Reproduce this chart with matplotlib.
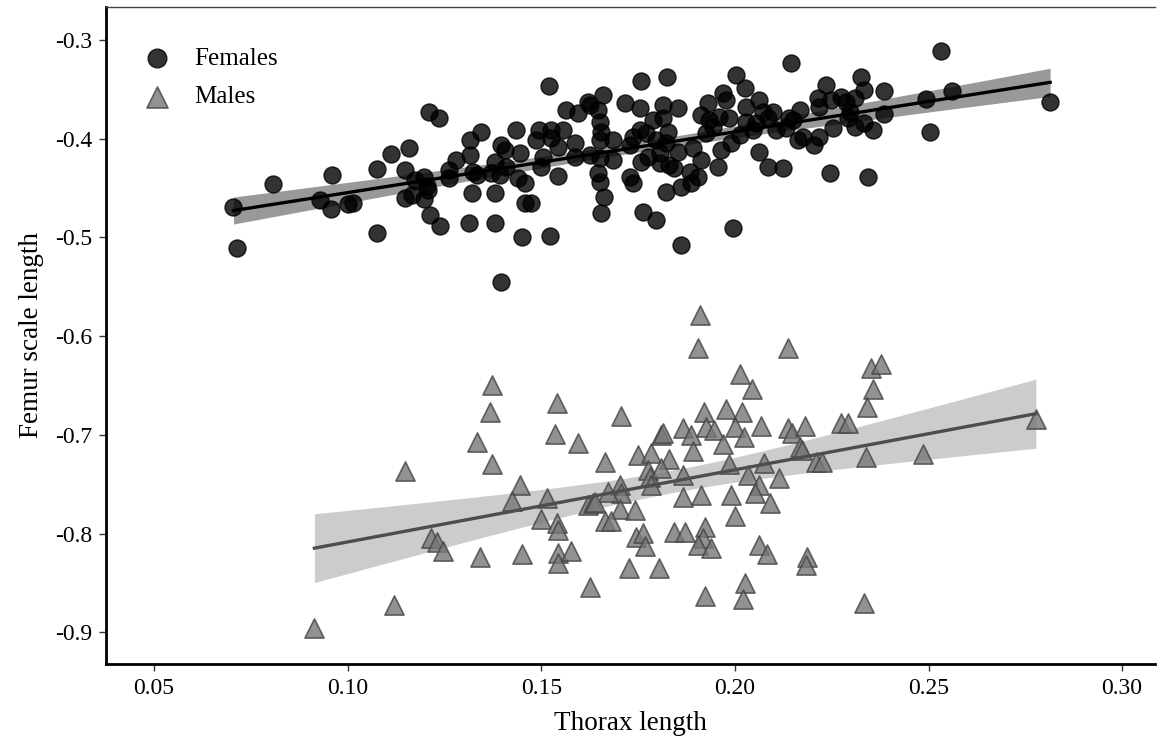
import numpy as np
import matplotlib
matplotlib.use("Agg")
import matplotlib.pyplot as plt

plt.rcParams["font.family"] = ["Liberation Serif", "DejaVu Serif"]
plt.rcParams["axes.unicode_minus"] = False

# thorax length / femur scale length
female_x = [0.0705, 0.0715, 0.0808, 0.096, 0.0928, 0.0956, 0.1001, 0.1014, 0.1076, 0.1076,
            0.1113, 0.1159, 0.1149, 0.121, 0.1235, 0.1148, 0.1165, 0.1173, 0.1197, 0.1204,
            0.1208, 0.1197, 0.1212, 0.1238, 0.1262, 0.1262, 0.1281, 0.1315, 0.1315, 0.1345,
            0.1324, 0.1333, 0.132, 0.1313, 0.138, 0.138, 0.138, 0.1397, 0.1406, 0.1393,
            0.1371, 0.1397, 0.1434, 0.1439,
            0.152, 0.141, 0.1457, 0.1457, 0.1474, 0.1451, 0.1522, 0.1444, 0.1487, 0.1494,
            0.1504, 0.15, 0.1526, 0.1556, 0.1526, 0.1543, 0.1543, 0.1565, 0.1595, 0.1586,
            0.1586, 0.1621, 0.1625, 0.1646, 0.1659, 0.1651, 0.1655, 0.1651, 0.1685, 0.1625,
            0.1651, 0.1685, 0.1646, 0.1651, 0.1661, 0.1655, 0.1715, 0.1754, 0.1758, 0.1825,
            0.1728, 0.1737, 0.1754, 0.1771, 0.1728, 0.1737, 0.1758, 0.1775, 0.1788, 0.1814,
            0.1814, 0.1853, 0.1797, 0.1827, 0.1823, 0.1806, 0.1806, 0.1831, 0.1844, 0.1762,
            0.1795, 0.1821, 0.1853, 0.1862, 0.1883, 0.1887, 0.1904, 0.1891, 0.1913, 0.1862,
            0.1913, 0.193, 0.1934, 0.196, 0.1986, 0.1943, 0.1926, 0.1965, 0.1956, 0.1969,
            0.1977, 0.2003, 0.2025, 0.199, 0.2012, 0.2029, 0.2029, 0.2063, 0.2046, 0.2055,
            0.2072, 0.2098, 0.2085, 0.2063, 0.2085, 0.2124, 0.1995, 0.2107, 0.2141, 0.2132,
            0.2149, 0.2145, 0.2162, 0.2167,
            0.2532, 0.2214, 0.2218, 0.2236, 0.2248, 0.2274, 0.2287, 0.2309, 0.2326, 0.2334,
            0.2296, 0.2291, 0.2309, 0.2334, 0.2356, 0.2386, 0.2386, 0.2175, 0.2205, 0.2218,
            0.2253, 0.2246, 0.2343, 0.2494, 0.2561, 0.2505, 0.2814]
female_y = [-0.469, -0.511, -0.446, -0.437, -0.462, -0.4715, -0.4661, -0.4648, -0.4958, -0.431,
            -0.4155, -0.4097, -0.4317, -0.3726, -0.3793, -0.4604, -0.457, -0.4418, -0.4385, -0.4479,
            -0.452, -0.4614, -0.4773, -0.4881, -0.4317, -0.4401, -0.4216, -0.4165, -0.4013, -0.3929,
            -0.4334, -0.4368, -0.4553, -0.4857, -0.4857, -0.4547, -0.4233, -0.4064, -0.4114, -0.4368,
            -0.435, -0.5448, -0.3912, -0.4398,
            -0.3466, -0.4283, -0.4452, -0.4654, -0.4654, -0.4999, -0.4985, -0.4148, -0.4013, -0.3912,
            -0.4182, -0.4283, -0.3912, -0.3912, -0.3996, -0.4081, -0.4378, -0.3709, -0.3743, -0.4046,
            -0.4182, -0.3625, -0.3658, -0.3709, -0.3557, -0.3828, -0.3929, -0.4013, -0.4013, -0.4165,
            -0.4198, -0.4216, -0.435, -0.4435, -0.4587, -0.4755, -0.3641, -0.3692, -0.3415, -0.3372,
            -0.4064, -0.398, -0.3912, -0.3945, -0.4385, -0.4452, -0.4233, -0.4182, -0.381, -0.3793,
            -0.3658, -0.3692, -0.4013, -0.3929, -0.4046, -0.4148, -0.4249, -0.4266, -0.43, -0.4739,
            -0.4823, -0.4537, -0.4131, -0.4486, -0.4334, -0.4452, -0.4385, -0.4097, -0.4216, -0.5077,
            -0.376, -0.3641, -0.381, -0.3777, -0.3793, -0.3878, -0.3945, -0.4114, -0.4283, -0.354,
            -0.3608, -0.3355, -0.3489, -0.4046, -0.3962, -0.3676, -0.3828, -0.3608, -0.3912, -0.3844,
            -0.3726, -0.3726, -0.3793, -0.4131, -0.4283, -0.4294, -0.4901, -0.3912, -0.3793, -0.3894,
            -0.381, -0.323, -0.4013, -0.3709,
            -0.3111, -0.3591, -0.3676, -0.3456, -0.3608, -0.3574, -0.3625, -0.3591, -0.3378, -0.3507,
            -0.3726, -0.3793, -0.3878, -0.3844, -0.3912, -0.3514, -0.375, -0.398, -0.4064, -0.398,
            -0.3894, -0.435, -0.4385, -0.3601, -0.3514, -0.3929, -0.3625]

male_x = [0.0914, 0.112, 0.1149, 0.1373, 0.1367, 0.1333, 0.1373, 0.1216, 0.1231, 0.1245,
          0.1341, 0.1446, 0.1424, 0.1451, 0.1541, 0.1535, 0.1595, 0.1515, 0.1498, 0.1541,
          0.1543, 0.1543, 0.1543, 0.1578, 0.1627, 0.1621, 0.1634,
          0.1909, 0.1904, 0.2137, 0.2012, 0.2045, 0.1705, 0.1919, 0.1978, 0.2019, 0.181,
          0.1814, 0.1867, 0.1887, 0.1926, 0.1947, 0.1999, 0.2023, 0.2068, 0.1969, 0.1891,
          0.2137, 0.2148, 0.2182, 0.2274, 0.2291, 0.2167, 0.2174, 0.175, 0.1784, 0.183,
          0.1664, 0.1775, 0.178, 0.181, 0.1784, 0.1867, 0.1986, 0.2076, 0.221, 0.2225,
          0.2339, 0.2352, 0.2378, 0.2356, 0.2341, 0.2033, 0.2062, 0.2051, 0.2113, 0.1702,
          0.1707, 0.1672, 0.1638, 0.1702, 0.1741, 0.1664, 0.1681, 0.1867, 0.1913, 0.199,
          0.2091, 0.2, 0.1745, 0.1762, 0.1767, 0.1844, 0.187, 0.1922, 0.1917, 0.1904,
          0.1939, 0.2062, 0.2082, 0.2186, 0.2184, 0.1726, 0.1805, 0.1922, 0.2027, 0.202,
          0.2334, 0.2487, 0.2777]
male_y = [-0.896, -0.8723, -0.7363, -0.6495, -0.6765, -0.7069, -0.7298, -0.8048, -0.8082, -0.8173,
          -0.8234, -0.7508, -0.767, -0.8207, -0.6674, -0.6994, -0.7085, -0.7636, -0.7855, -0.789,
          -0.7964, -0.82, -0.8301, -0.8177, -0.8538, -0.771, -0.7693,
          -0.5786, -0.6117, -0.6123, -0.6383, -0.6538, -0.6806, -0.6765, -0.6741, -0.6765, -0.7001,
          -0.6985, -0.6934, -0.7001, -0.6917, -0.6951, -0.6917, -0.7019, -0.691, -0.7093, -0.716,
          -0.6934, -0.6978, -0.691, -0.6883, -0.6883, -0.712, -0.7153, -0.7204, -0.7181, -0.7248,
          -0.7272, -0.7356, -0.7424, -0.7339, -0.7508, -0.7407, -0.7295, -0.7288, -0.7272, -0.7272,
          -0.7227, -0.6326, -0.6282, -0.6538, -0.6721, -0.7407, -0.7508, -0.7592, -0.744, -0.7508,
          -0.7592, -0.7576, -0.7677, -0.7754, -0.7761, -0.7869, -0.7869, -0.7632, -0.7609, -0.7609,
          -0.7687, -0.7822, -0.8032, -0.7997, -0.8126, -0.7981, -0.7981, -0.793, -0.8048, -0.8116,
          -0.8149, -0.8116, -0.8207, -0.8234, -0.8318, -0.8352, -0.8352, -0.8632, -0.8504, -0.8666,
          -0.87, -0.7196, -0.6842]

x_ticks = [0.05, 0.10, 0.15, 0.20, 0.25, 0.30]
y_ticks = [-0.3, -0.4, -0.5, -0.6, -0.7, -0.8, -0.9]


def lm_band(x, y, n_pts=80):
    x = np.asarray(x)
    y = np.asarray(y)
    b, a = np.polyfit(x, y, 1)
    xs = np.linspace(x.min(), x.max(), n_pts)
    fit = a + b * xs
    resid = y - (a + b * x)
    n = len(x)
    s = np.sqrt(np.sum(resid ** 2) / (n - 2))
    sxx = np.sum((x - x.mean()) ** 2)
    se = s * np.sqrt(1.0 / n + (xs - x.mean()) ** 2 / sxx)
    t = 1.97
    return xs, fit, fit - t * se, fit + t * se


fig = plt.figure(figsize=(11.64, 7.45), dpi=100)
ax = fig.add_axes([0.0911, 0.1087, 0.9012, 0.882])

xs, fit, lo, hi = lm_band(female_x, female_y)
ax.fill_between(xs, lo, hi, color="#999999", lw=0, zorder=1)
ax.scatter(female_x, female_y, s=150, marker="o", facecolor="#000000", alpha=0.8,
           edgecolor="#000000", linewidth=1, zorder=2, label="Females")
ax.plot(xs, fit, color="black", lw=2.4, zorder=3)

xs, fit, lo, hi = lm_band(male_x, male_y)
ax.fill_between(xs, lo, hi, color="#cccccc", lw=0, zorder=1)
ax.scatter(male_x, male_y, s=190, marker="^", facecolor="#777777", alpha=0.8,
           edgecolor="#444444", linewidth=1.2, zorder=2, label="Males")
ax.plot(xs, fit, color="#4d4d4d", lw=2.4, zorder=3)

ax.set_xlim(0.0376, 0.3085)
ax.set_ylim(-0.9322, -0.2666)
ax.set_xticks(x_ticks)
ax.set_xticklabels([f"{v:.2f}" for v in x_ticks])
ax.set_yticks(y_ticks)
ax.set_yticklabels([f"{v:.1f}" for v in y_ticks])
ax.tick_params(labelsize=17, length=5, width=1, color="#333333", labelcolor="black", pad=5)
ax.set_xlabel("Thorax length", fontsize=19.5, labelpad=9)
ax.set_ylabel("Femur scale length", fontsize=19.5, labelpad=8)

ax.spines["right"].set_visible(False)
ax.spines["left"].set_linewidth(2)
ax.spines["bottom"].set_linewidth(2)
ax.spines["top"].set_linewidth(1)
ax.spines["top"].set_color("#444444")

ax.legend(loc="upper left", bbox_to_anchor=(-0.009, 0.992), frameon=False, fontsize=18,
          handletextpad=0.5, borderaxespad=1.0, labelspacing=0.65, markerscale=1.1)

fig.savefig("out.png", dpi=100)
